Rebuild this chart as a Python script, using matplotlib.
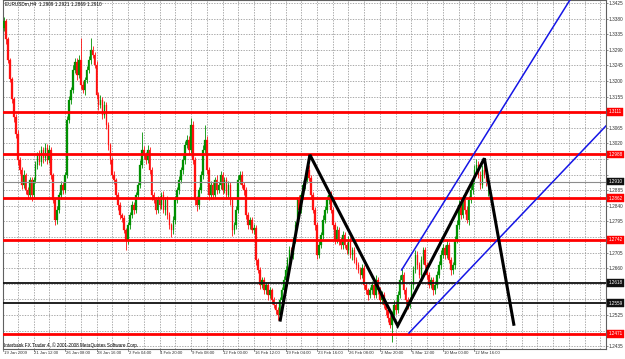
import matplotlib
matplotlib.use("Agg")
import matplotlib.pyplot as plt
import matplotlib.transforms as mtransforms

plt.rcParams['font.family'] = ['Liberation Sans', 'DejaVu Sans']

# ---------------- data (EURUSDm, H4) ----------------
first_open = 1.3345
closes = [
    1.3354, 1.3372, 1.3320, 1.3262, 1.3205, 1.3147, 1.3095, 1.3046,
    1.2972, 1.2943, 1.2900, 1.2929, 1.2885, 1.2871, 1.2914, 1.2871,
    1.2914, 1.2958, 1.2986, 1.2966, 1.3001, 1.2978, 1.3007, 1.2972,
    1.3001, 1.2929, 1.2857, 1.2799, 1.2828, 1.2871, 1.2900, 1.2885,
    1.2929, 1.3088, 1.3145, 1.3174, 1.3232, 1.3255, 1.3218, 1.3261,
    1.3189, 1.3174, 1.3203, 1.3232, 1.3261, 1.3290, 1.3275, 1.3247,
    1.3160, 1.3131, 1.3145, 1.3102, 1.3131, 1.3073, 1.3016, 1.2972,
    1.2929, 1.2914, 1.2871, 1.2842, 1.2813, 1.2805, 1.2770, 1.2741,
    1.2784, 1.2813, 1.2842, 1.2828, 1.2871, 1.2900, 1.2958, 1.3001,
    1.2986, 1.2972, 1.3001, 1.2943, 1.2871, 1.2857, 1.2828, 1.2857,
    1.2842, 1.2871, 1.2828, 1.2857, 1.2813, 1.2784, 1.2770, 1.2799,
    1.2857, 1.2885, 1.2914, 1.2943, 1.2972, 1.3016, 1.3030, 1.3001,
    1.3073, 1.2972, 1.2857, 1.2842, 1.2885, 1.2929, 1.3001, 1.3030,
    1.2943, 1.2871, 1.2900, 1.2871, 1.2914, 1.2885, 1.2900, 1.2929,
    1.2885, 1.2914, 1.2871, 1.2900, 1.2857, 1.2770, 1.2784, 1.2828,
    1.2914, 1.2929, 1.2900, 1.2885, 1.2813, 1.2784, 1.2799, 1.2770,
    1.2776, 1.2684, 1.2655, 1.2612, 1.2626, 1.2597, 1.2612, 1.2583,
    1.2597, 1.2568, 1.2554, 1.2540, 1.2525, 1.2568, 1.2597, 1.2626,
    1.2655, 1.2684, 1.2712, 1.2698, 1.2741, 1.2784, 1.2857, 1.2828,
    1.2871, 1.2900, 1.2914, 1.2943, 1.2920, 1.2871, 1.2828, 1.2784,
    1.2698, 1.2726, 1.2755, 1.2799, 1.2828, 1.2857, 1.2871, 1.2828,
    1.2784, 1.2741, 1.2770, 1.2741, 1.2726, 1.2755, 1.2726, 1.2712,
    1.2741, 1.2698, 1.2712, 1.2684, 1.2669, 1.2655, 1.2641, 1.2661,
    1.2612, 1.2597, 1.2583, 1.2597, 1.2612, 1.2583, 1.2626, 1.2597,
    1.2568, 1.2583, 1.2554, 1.2540, 1.2517, 1.2497, 1.2525, 1.2554,
    1.2540, 1.2583, 1.2626, 1.2641, 1.2597, 1.2568, 1.2554, 1.2568,
    1.2612, 1.2655, 1.2698, 1.2669, 1.2641, 1.2684, 1.2712, 1.2669,
    1.2641, 1.2612, 1.2626, 1.2597, 1.2612, 1.2641, 1.2669, 1.2698,
    1.2718, 1.2698, 1.2726, 1.2684, 1.2655, 1.2669, 1.2741, 1.2784,
    1.2842, 1.2813, 1.2857, 1.2828, 1.2799, 1.2857, 1.2885, 1.2914,
    1.2943, 1.2958, 1.2929, 1.2900, 1.2943, 1.2929, 1.2909, 1.2910,
]
upper_wick_pips = [
    10, 12, 8, 6, 5, 8, 6, 10,
    12, 8, 10, 14, 6, 8, 10, 9,
    8, 12, 10, 15, 12, 9, 14, 10,
    15, 8, 6, 5, 10, 8, 12, 9,
    8, 10, 12, 9, 14, 10, 12, 15,
    64, 10, 8, 12, 10, 35, 12, 10,
    12, 9, 14, 8, 10, 9, 8, 6,
    8, 10, 6, 8, 9, 7, 8, 6,
    10, 8, 12, 9, 10, 8, 14, 52,
    12, 10, 15, 9, 8, 10, 7, 12,
    10, 9, 12, 8, 10, 8, 6, 12,
    10, 8, 12, 10, 14, 12, 15, 10,
    20, 12, 8, 10, 9, 12, 14, 43,
    10, 8, 12, 10, 9, 14, 10, 12,
    9, 10, 8, 12, 10, 6, 9, 12,
    15, 12, 10, 8, 9, 10, 8, 9,
    12, 8, 6, 8, 10, 9, 8, 7,
    9, 6, 8, 7, 8, 10, 9, 12,
    10, 8, 12, 9, 10, 12, 8, 14,
    10, 12, 9, 10, 15, 8, 10, 9,
    8, 12, 10, 14, 12, 10, 9, 12,
    8, 10, 12, 9, 10, 12, 8, 10,
    12, 9, 10, 8, 7, 9, 8, 12,
    8, 9, 7, 10, 12, 8, 14, 9,
    8, 10, 7, 8, 6, 9, 12, 14,
    10, 12, 14, 18, 9, 8, 10, 9,
    12, 10, 14, 12, 9, 12, 10, 8,
    9, 8, 10, 9, 12, 10, 12, 14,
    12, 10, 14, 9, 8, 10, 12, 14,
    16, 10, 14, 12, 10, 12, 14, 12,
    15, 18, 12, 10, 16, 14, 10, 11,
]
lower_wick_pips = [
    8, 10, 12, 9, 8, 10, 12, 9,
    14, 10, 12, 8, 10, 12, 9, 18,
    10, 8, 12, 9, 10, 14, 8, 12,
    9, 12, 10, 14, 12, 8, 10, 12,
    9, 8, 10, 12, 9, 10, 14, 8,
    12, 10, 14, 9, 8, 12, 10, 9,
    12, 14, 10, 12, 9, 10, 14, 12,
    10, 12, 9, 14, 10, 12, 9, 29,
    12, 10, 9, 12, 10, 8, 9, 10,
    12, 10, 8, 12, 14, 10, 12, 9,
    10, 12, 9, 14, 10, 12, 19, 10,
    12, 9, 10, 8, 12, 10, 9, 12,
    10, 12, 14, 16, 10, 9, 12, 10,
    12, 14, 10, 12, 9, 10, 8, 12,
    10, 9, 12, 10, 14, 16, 12, 10,
    9, 12, 10, 14, 12, 10, 12, 9,
    12, 14, 10, 12, 9, 12, 10, 14,
    10, 12, 9, 12, 14, 10, 12, 9,
    10, 12, 9, 10, 12, 9, 10, 12,
    9, 10, 12, 9, 8, 12, 10, 14,
    12, 10, 9, 12, 10, 8, 12, 10,
    12, 10, 9, 14, 10, 12, 9, 10,
    12, 10, 14, 9, 12, 10, 12, 9,
    12, 10, 14, 9, 12, 10, 9, 12,
    10, 12, 9, 14, 12, 10, 49, 10,
    12, 9, 10, 12, 10, 14, 12, 10,
    9, 12, 10, 12, 10, 9, 12, 10,
    12, 10, 9, 14, 12, 10, 9, 12,
    10, 12, 9, 10, 14, 12, 10, 9,
    12, 10, 9, 12, 10, 14, 9, 10,
    12, 9, 10, 12, 10, 9, 12, 40,
]

date_labels = ["19 Jan 2009", "21 Jan 12:00", "26 Jan 08:00", "28 Jan 16:00",
               "2 Feb 04:00", "4 Feb 20:00", "9 Feb 08:00", "12 Feb 00:00",
               "16 Feb 12:00", "19 Feb 04:00", "23 Feb 16:00", "26 Feb 08:00",
               "2 Mar 20:00", "5 Mar 12:00", "10 Mar 00:00", "12 Mar 16:00"]
bars_per_label = 16

price_ticks = [1.3425, 1.3380, 1.3335, 1.3290, 1.3245, 1.3200, 1.3155, 1.3110,
               1.3065, 1.3020, 1.2975, 1.2930, 1.2885, 1.2840, 1.2795, 1.2750,
               1.2705, 1.2660, 1.2615, 1.2570, 1.2525, 1.2480, 1.2435]

red_levels = [1.3111, 1.2988, 1.2862, 1.2742, 1.2471]
black_levels = [1.2618, 1.2559]
bid_price = 1.2910

zigzag_bars = [141.2, 156.4, 201.0, 245.0, 260.1]
zigzag_prices = [1.2506, 1.2987, 1.2494, 1.2977, 1.2494]

upper_trend_bars = [203.0, 288.5]
upper_trend_prices = [1.2655, 1.3434]
lower_trend_bars = [206.7, 307.2]
lower_trend_prices = [1.2473, 1.3073]

header = "EURUSDm,H4  1.2909 1.2921 1.2869 1.2910"
copyright_text = "Interbank FX Trader 4, \u00a9 2001-2008 MetaQuotes Software Corp."

# ---------------- figure ----------------
W, H = 625, 359
fig = plt.figure(figsize=(W / 100, H / 100), dpi=100, facecolor='white')
ax = fig.add_axes([3 / W, 10 / H, 603 / W, 349 / H])
ax.set_facecolor('white')

x_left, x_right = 0.5, 306.8
y_low, y_high = 1.24269, 1.34337
ax.set_xlim(x_left, x_right)
ax.set_ylim(y_low, y_high)

# grid
grid_kw = dict(color='#9a9a9a', lw=0.6, linestyle=(0, (1.6, 1.6)), zorder=0)
for p in price_ticks:
    ax.axhline(p, **grid_kw)
gx = 0
while gx < x_right:
    ax.axvline(gx, **grid_kw)
    gx += bars_per_label / 2

# candles
opens = [first_open] + closes[:-1]
bull = '#009000'
bear = '#ff1010'
for i, (o, c, uw, lw_) in enumerate(zip(opens, closes, upper_wick_pips, lower_wick_pips)):
    col = bull if c >= o else bear
    top = max(o, c)
    bot = min(o, c)
    hi = top + uw / 10000.0
    lo = bot - lw_ / 10000.0
    ax.vlines(i, lo, hi, color=col, lw=0.6, zorder=2)
    ax.bar(i, max(top - bot, 0.00008), bottom=bot, width=0.8, color=col,
           edgecolor=col, lw=0.2, zorder=3)

# horizontal levels
for lv in red_levels:
    ax.axhline(lv, color='#ff0000', lw=2.0, zorder=4)
for lv in black_levels:
    ax.axhline(lv, color='#101010', lw=1.3, zorder=4)
ax.axhline(bid_price, color='#8c8c8c', lw=0.8, zorder=4)

# trend lines and zigzag
ax.plot(upper_trend_bars, upper_trend_prices, color='#1515e6', lw=1.1, zorder=5)
ax.plot(lower_trend_bars, lower_trend_prices, color='#1515e6', lw=1.1, zorder=5)
ax.plot(zigzag_bars, zigzag_prices, color='black', lw=2.2, zorder=6,
        solid_joinstyle='miter', solid_capstyle='butt')

# frame
for s in ax.spines.values():
    s.set_color('#606060')
    s.set_linewidth(0.8)

# price axis on the right (labels hidden where a price tag covers them)
tag_levels = red_levels + black_levels + [bid_price]
ax.yaxis.tick_right()
ax.set_yticks(price_ticks)
shown = [f"{p:.4f}" if min(abs(p - t) for t in tag_levels) > 0.0021 else ""
         for p in price_ticks]
ax.set_yticklabels(shown, fontsize=3.4, color='#303030')
ax.tick_params(axis='y', length=1.2, width=0.5, pad=0.8, color='#606060')

# date axis
xt = [k * bars_per_label for k in range(len(date_labels))]
ax.set_xticks([])
trans_x = mtransforms.blended_transform_factory(ax.transData, ax.transAxes)
for k, (pos, lab) in enumerate(zip(xt, date_labels)):
    px = max(pos, x_left)
    ax.text(px + 0.3, -0.006, lab, transform=trans_x, fontsize=3.1,
            color='#303030', ha='left', va='top', clip_on=False)
    ax.plot([px, px], [0, -0.006], transform=trans_x,
            color='#606060', lw=0.5, clip_on=False)

# price tags
trans_y = mtransforms.blended_transform_factory(ax.transAxes, ax.transData)
def tag(level, face):
    ax.text(1.004, level, f"{level:.4f}", transform=trans_y, fontsize=3.3,
            color='white', ha='left', va='center', zorder=10, clip_on=False,
            bbox=dict(boxstyle='square,pad=0.3', fc=face, ec=face, lw=0.3))
for lv in red_levels:
    tag(lv, '#ff0000')
for lv in black_levels:
    tag(lv, '#101010')
tag(bid_price, '#101010')

# texts
ax.text(0.003, 0.995, header, transform=ax.transAxes, fontsize=3.4,
        color='black', ha='left', va='top', zorder=11)
ax.text(0.001, 0.004, copyright_text, transform=ax.transAxes, fontsize=3.3,
        color='black', ha='left', va='bottom', zorder=11)

fig.savefig('out.png', dpi=100, facecolor='white')
